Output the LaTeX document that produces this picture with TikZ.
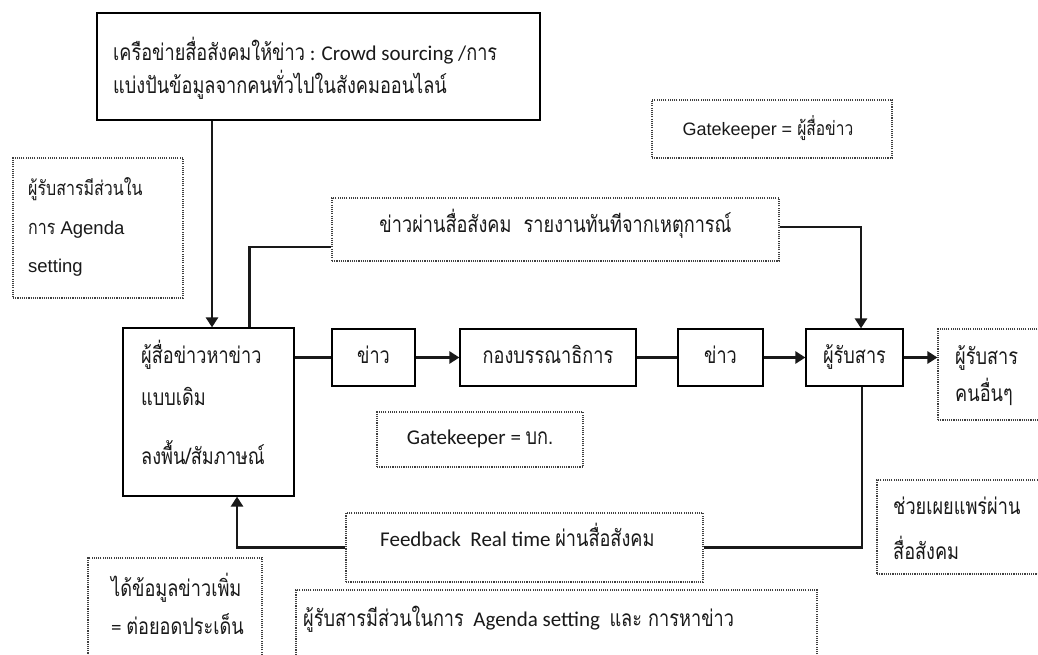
\documentclass[tikz,border=0pt]{standalone}
\usepackage{fontspec}
\setmainfont{Carlito}
\newfontfamily\thf[Script=Thai,Scale=1.08,FakeStretch=0.8]{Loma}
\newfontfamily\arf{Liberation Sans}
\usetikzlibrary{arrows.meta,fit}
\newcommand\thx[1]{{\thf #1}}
\tikzset{
  sbox/.style={draw=black, line width=1.2pt, inner sep=0pt},
  dbox/.style={draw=black!75, line width=1.1pt, dash pattern=on 1.1pt off 1.1pt, inner sep=0pt},
  conn/.style={line width=2.6pt, draw=black!90},
  arr/.style={conn, -{Triangle[width=12pt,length=10pt]}},
  tx/.style={inner sep=0pt, anchor=base west},
  ctx/.style={inner sep=0pt, anchor=base},
  every node/.style={font=\fontsize{21}{24}\selectfont, text=black!90},
}
\begin{document}
\begin{tikzpicture}[x=1pt,y=-1pt]
\useasboundingbox (0,0) rectangle (1038,655);
\clip (0,0) rectangle (1038,655);
\fill[white] (0,0) rectangle (1038,655);

% boxes
\node[sbox, fit={(97,13)(540,120)}] (top) {};
\node[dbox, fit={(13,158)(183,298)}] (ag) {};
\node[dbox, fit={(652,100)(892,158)}] (gk1) {};
\node[dbox, fit={(332,198)(779,261)}] (sm) {};
\node[sbox, fit={(123,328)(294,496)}] (main) {};
\node[sbox, fit={(332,329)(415,386)}] (n1) {};
\node[sbox, fit={(460,329)(636,386)}] (ed) {};
\node[sbox, fit={(678,329)(763,386)}] (n2) {};
\node[sbox, fit={(806,329)(903,386)}] (recv) {};
\node[dbox, fit={(938,329)(1050,420)}] (oth) {};
\node[dbox, fit={(377,412)(583,467)}] (gk2) {};
\node[dbox, fit={(877,480)(1050,574)}] (spread) {};
\node[dbox, fit={(346,513)(703,582)}] (fb) {};
\node[dbox, fit={(88,558)(262,670)}] (more) {};
\node[dbox, fit={(296,590)(817,670)}] (agb) {};

% centred texts
\node[ctx] (gk1t) at ([xshift=-4,yshift=-7]gk1.center) {\arf\fontsize{18}{22}\selectfont Gatekeeper = \thx{ผู้สื่อข่าว}};
\node[ctx] (smt) at ([yshift=-3.5]sm.center) {\thx{ข่าวผ่านสื่อสังคม\ \ รายงานทันทีจากเหตุการณ์}};
\node[ctx] (n1t) at ([yshift=-6]n1.center) {\thx{ข่าว}};
\node[ctx] (edt) at ([yshift=-6]ed.center) {\thx{กองบรรณาธิการ}};
\node[ctx] (n2t) at ([yshift=-6]n2.center) {\thx{ข่าว}};
\node[ctx] (recvt) at ([yshift=-6]recv.center) {\thx{ผู้รับสาร}};
\node[ctx] (gk2t) at ([yshift=-4.5]gk2.center) {Gatekeeper = \thx{บก.}};

% left-aligned texts
\node[tx] (top1) at (113,61) {\thx{เครือข่ายสื่อสังคมให้ข่าว} : Crowd sourcing /\thx{การ}};
\node[tx] (top2) at (113,94) {\thx{แบ่งปันข้อมูลจากคนทั่วไปในสังคมออนไลน์}};
\node[tx] (ag1) at (28,196) {\arf\fontsize{18.5}{22}\selectfont\thx{ผู้รับสารมีส่วนใน}};
\node[tx] (ag2) at (28,234) {\arf\fontsize{18.5}{22}\selectfont\thx{การ} Agenda};
\node[tx] (ag3) at (28,272) {\arf\fontsize{18.5}{22}\selectfont setting};
\node[tx] (m1) at (141,363) {\thx{ผู้สื่อข่าวหาข่าว}};
\node[tx] (m2) at (141,405) {\thx{แบบเดิม}};
\node[tx] (m3) at (141,464) {\thx{ลงพื้น/สัมภาษณ์}};
\node[tx] (o1) at (955,364) {\thx{ผู้รับสาร}};
\node[tx] (o2) at (955,401) {\thx{คนอื่นๆ}};
\node[tx] (s1) at (893,514) {\thx{ช่วยเผยแพร่ผ่าน}};
\node[tx] (s2) at (893,559) {\thx{สื่อสังคม}};
\node[tx] (fbt) at (380,546) {Feedback\ \ Real time \thx{ผ่านสื่อสังคม}};
\node[tx] (mo1) at (111,596) {\thx{ได้ข้อมูลข่าวเพิ่ม}};
\node[tx] (mo2) at (111,634) {= \thx{ต่อยอดประเด็น}};
\node[tx] (agbt) at (303,626) {\thx{ผู้รับสารมีส่วนในการ}\ \ Agenda setting\ \ \thx{และ การหาข่าว}};

% connectors
\draw[arr] ([xshift=-106.5]top.south) -- ([xshift=-106.5]top.south |- main.north);
\draw[conn] ([xshift=-45]main.north east) |- ([yshift=-17.5]sm.west);
\draw[arr] ([yshift=2.5]sm.east) -| ([xshift=6.5]recv.north);
\draw[conn] (n1.west -| main.east) -- (n1.west);
\draw[arr] (n1.east) -- (ed.west);
\draw[conn] (ed.east) -- (n2.west);
\draw[arr] (n2.east) -- (recv.west);
\draw[arr] (recv.east) -- (recv.east -| oth.west);
\draw[conn] ([xshift=7.5]recv.south) |- (fb.east);
\draw[arr] (fb.west) -| ([xshift=28.5]main.south);
\end{tikzpicture}
\end{document}
